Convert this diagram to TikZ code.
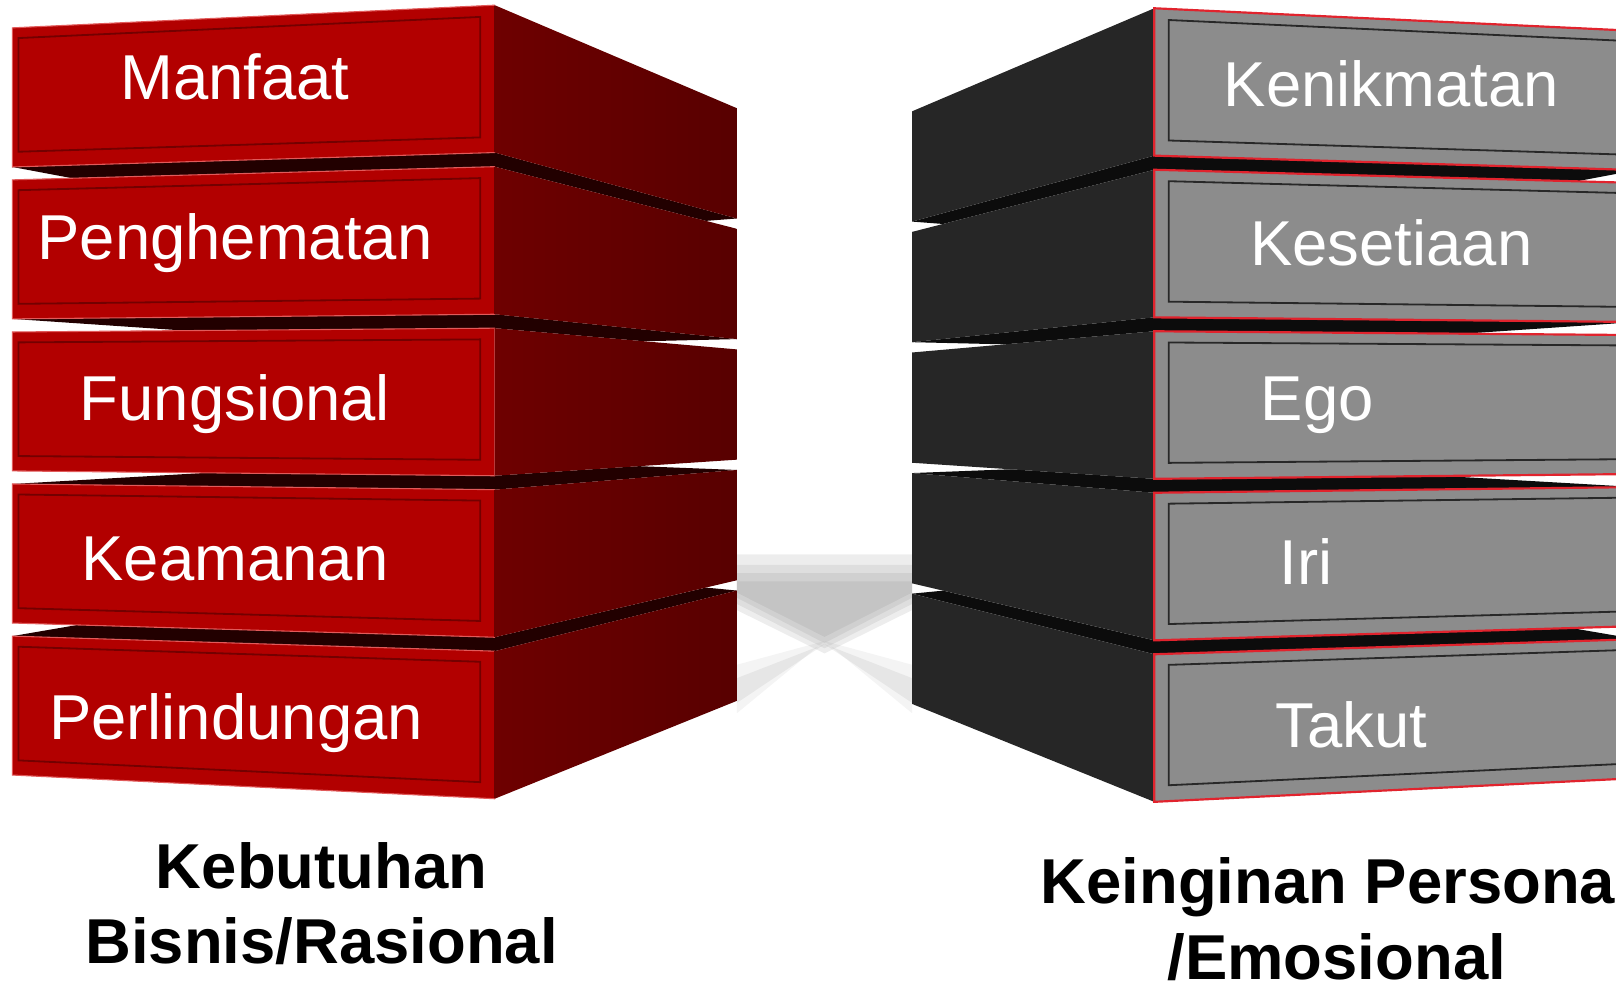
\documentclass[tikz,border=0pt]{standalone}
\usepackage{fontspec}
\setmainfont{Liberation Sans}

\definecolor{frontred}{RGB}{178,0,0}
\definecolor{sidered}{RGB}{110,0,0}
\definecolor{sidereddark}{RGB}{88,0,0}
\definecolor{gapred}{RGB}{34,0,0}
\definecolor{panelred}{RGB}{115,0,0}
\definecolor{edgepink}{RGB}{225,90,90}
\definecolor{frontgrey}{RGB}{140,140,140}
\definecolor{sidegrey}{RGB}{38,38,38}
\definecolor{gapgrey}{RGB}{12,12,12}
\definecolor{panelgrey}{RGB}{40,40,40}
\definecolor{edgered}{RGB}{225,35,45}
\definecolor{floorgrey}{RGB}{110,110,110}

\begin{document}
\begin{tikzpicture}[
    x=0.01cm, y=-0.01cm,
    redfront/.style={fill=frontred, draw=edgepink, line width=0.3pt},
    redside/.style={left color=sidered, right color=sidereddark},
    redgap/.style={fill=gapred},
    redpanel/.style={draw=panelred, line width=0.5pt},
    greyfront/.style={fill=frontgrey, draw=edgered, line width=0.6pt},
    greyside/.style={fill=sidegrey},
    greygap/.style={fill=gapgrey},
    greypanel/.style={draw=panelgrey, line width=0.5pt},
    floor/.style={fill=floorgrey, opacity=0.12},
    boxlabel/.style={text=white, anchor=base, font=\fontsize{17.5}{21}\selectfont},
    caption/.style={anchor=base, align=center, font=\fontsize{17.5}{20.8}\selectfont\bfseries}
]

\useasboundingbox (0,0) rectangle (1568,956);
\clip (0,0) rectangle (1568,956);

% -------------------------
% Floor shadow between the stacks
% -------------------------
\fill[floor] (715,538) -- (885,538) -- (885,592) -- (800,634) -- (715,592) -- cycle;
\fill[floor] (715,548) -- (885,548) -- (885,586) -- (800,629) -- (715,586) -- cycle;
\fill[floor] (715,556) -- (885,556) -- (885,580) -- (800,624) -- (715,580) -- cycle;
\fill[floor] (715,564) -- (885,564) -- (885,575) -- (800,618) -- (715,575) -- cycle;
\fill[floor, opacity=0.08] (800,622) -- (715,645) -- (715,692) -- cycle;
\fill[floor, opacity=0.08] (800,622) -- (885,645) -- (885,692) -- cycle;
\fill[floor, opacity=0.1] (800,625) -- (715,658) -- (715,682) -- cycle;
\fill[floor, opacity=0.1] (800,625) -- (885,658) -- (885,682) -- cycle;

% -------------------------
% Left stack (Kebutuhan Bisnis/Rasional)
% -------------------------

% gaps
\fill[redgap] (12,162) -- (480,148) -- (715,212) -- (685,214.3) -- (480,161.7) -- (70,172.9) -- cycle;
\fill[redgap] (12,309.4) -- (480,304.9) -- (715,329) -- (625,331.1) -- (480,318.4) -- (180,320.8) -- cycle;
\fill[redgap] (12,469.6) -- (480,475.1) -- (715,456) -- (620,452.3) -- (480,461.6) -- (200,458.8) -- cycle;
\fill[redgap] (12,617.2) -- (480,631.8) -- (715,573) -- (685,570.1) -- (480,618.3) -- (75,606.4) -- cycle;

% 1. Manfaat
\path[redfront] (12,27) -- (480,5) -- (480,148) -- (12,162) -- cycle;
\shade[redside] (480,5) -- (715,105) -- (715,212) -- (480,148) -- cycle;
\draw[redpanel] (18,36.9) -- (466,16.4) -- (466,133.3) -- (18,147.2) -- cycle;
\node[boxlabel] (manfaat) at (228,97) {Manfaat};

% 2. Penghematan
\path[redfront] (12,174.5) -- (480,161.7) -- (480,304.9) -- (12,309.4) -- cycle;
\shade[redside] (480,161.7) -- (715,222) -- (715,329) -- (480,304.9) -- cycle;
\draw[redpanel] (18,184.5) -- (466,172.8) -- (466,289.7) -- (18,294.8) -- cycle;
\node[boxlabel] (penghematan) at (228,252) {Penghematan};

% 3. Fungsional
\path[redfront] (12,322.1) -- (480,318.4) -- (480,461.6) -- (12,456.9) -- cycle;
\shade[redside] (480,318.4) -- (715,339) -- (715,446) -- (480,461.6) -- cycle;
\draw[redpanel] (18,332.2) -- (466,329.3) -- (466,446.1) -- (18,442.5) -- cycle;
\node[boxlabel] (fungsional) at (228,408) {Fungsional};

% 4. Keamanan
\path[redfront] (12,469.6) -- (480,475.1) -- (480,618.3) -- (12,604.5) -- cycle;
\shade[redside] (480,475.1) -- (715,456) -- (715,563) -- (480,618.3) -- cycle;
\draw[redpanel] (18,479.8) -- (466,485.7) -- (466,602.5) -- (18,590.1) -- cycle;
\node[boxlabel] (keamanan) at (228,563) {Keamanan};

% 5. Perlindungan
\path[redfront] (12,617.2) -- (480,631.8) -- (480,775) -- (12,752) -- cycle;
\shade[redside] (480,631.8) -- (715,573) -- (715,680) -- (480,775) -- cycle;
\draw[redpanel] (18,627.5) -- (466,642.1) -- (466,758.9) -- (18,737.8) -- cycle;
\node[boxlabel] (perlindungan) at (229,718) {Perlindungan};

% -------------------------
% Right stack (Keinginan Personal/Emosional)
% -------------------------

% gaps
\fill[greygap] (1588,165) -- (1120,151) -- (885,215) -- (915,217.3) -- (1120,164.7) -- (1530,175.9) -- cycle;
\fill[greygap] (1588,312.4) -- (1120,307.9) -- (885,332) -- (975,334.1) -- (1120,321.4) -- (1420,323.8) -- cycle;
\fill[greygap] (1588,472.6) -- (1120,478.1) -- (885,459) -- (980,455.3) -- (1120,464.6) -- (1400,461.8) -- cycle;
\fill[greygap] (1588,620.2) -- (1120,634.8) -- (885,576) -- (915,573.1) -- (1120,621.3) -- (1525,609.4) -- cycle;

% 1. Kenikmatan
\fill[greyside] (1120,8) -- (885,108) -- (885,215) -- (1120,151) -- cycle;
\path[greyfront] (1588,30) -- (1120,8) -- (1120,151) -- (1588,165) -- cycle;
\draw[greypanel] (1582,39.9) -- (1134,19.4) -- (1134,136.3) -- (1582,150.2) -- cycle;
\node[boxlabel] (kenikmatan) at (1350,103) {Kenikmatan};

% 2. Kesetiaan
\fill[greyside] (1120,164.7) -- (885,225) -- (885,332) -- (1120,307.9) -- cycle;
\path[greyfront] (1588,177.5) -- (1120,164.7) -- (1120,307.9) -- (1588,312.4) -- cycle;
\draw[greypanel] (1582,187.5) -- (1134,175.8) -- (1134,292.7) -- (1582,297.8) -- cycle;
\node[boxlabel] (kesetiaan) at (1350,258) {Kesetiaan};

% 3. Ego
\fill[greyside] (1120,321.4) -- (885,342) -- (885,449) -- (1120,464.6) -- cycle;
\path[greyfront] (1588,325.1) -- (1120,321.4) -- (1120,464.6) -- (1588,459.9) -- cycle;
\draw[greypanel] (1582,335.2) -- (1134,332.3) -- (1134,449.1) -- (1582,445.5) -- cycle;
\node[boxlabel] (ego) at (1278,408) {Ego};

% 4. Iri
\fill[greyside] (1120,478.1) -- (885,459) -- (885,566) -- (1120,621.3) -- cycle;
\path[greyfront] (1588,472.6) -- (1120,478.1) -- (1120,621.3) -- (1588,607.5) -- cycle;
\draw[greypanel] (1582,482.8) -- (1134,488.7) -- (1134,605.5) -- (1582,593.1) -- cycle;
\node[boxlabel] (iri) at (1267,567) {Iri};

% 5. Takut
\fill[greyside] (1120,634.8) -- (885,576) -- (885,683) -- (1120,778) -- cycle;
\path[greyfront] (1588,620.2) -- (1120,634.8) -- (1120,778) -- (1588,755) -- cycle;
\draw[greypanel] (1582,630.5) -- (1134,645.1) -- (1134,761.9) -- (1582,740.8) -- cycle;
\node[boxlabel] (takut) at (1311,725) {Takut};

% -------------------------
% Captions (anchor base = last line)
% -------------------------
\node[caption] (kebutuhan) at (312,935) {Kebutuhan\\Bisnis/Rasional};
\node[caption] (keinginan) at (1297,950) {Keinginan Personal\\/Emosional};

\end{tikzpicture}
\end{document}
